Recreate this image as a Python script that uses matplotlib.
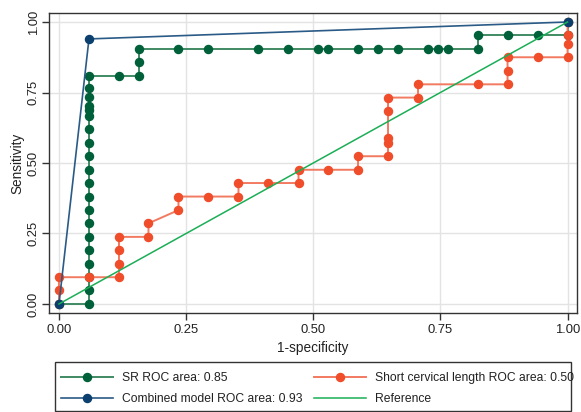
import matplotlib
matplotlib.use("Agg")
import matplotlib.pyplot as plt
from matplotlib.patches import Rectangle

plt.rcParams['font.family'] = ['Liberation Sans', 'DejaVu Sans']

# SR ROC curve
sr_x = [0.0, 0.059, 0.059, 0.059, 0.059, 0.059, 0.059, 0.059, 0.059, 0.059, 0.059,
        0.059, 0.059, 0.059, 0.059, 0.059, 0.059, 0.059, 0.059, 0.059, 0.059,
        0.118, 0.157, 0.157, 0.157, 0.235, 0.294, 0.392, 0.451, 0.510, 0.529,
        0.588, 0.627, 0.667, 0.725, 0.745, 0.765, 0.824, 0.824, 0.882, 0.941, 1.0, 1.0]
sr_y = [0.0, 0.0, 0.048, 0.095, 0.143, 0.190, 0.238, 0.286, 0.333, 0.381, 0.429,
        0.476, 0.524, 0.571, 0.619, 0.667, 0.687, 0.703, 0.733, 0.765, 0.810,
        0.810, 0.810, 0.857, 0.905, 0.905, 0.905, 0.905, 0.905, 0.905, 0.905,
        0.905, 0.905, 0.905, 0.905, 0.905, 0.905, 0.905, 0.954, 0.954, 0.954, 0.954, 1.0]

# Short cervical length ROC curve
scl_x = [0.0, 0.0, 0.0, 0.059, 0.118, 0.118, 0.118, 0.118, 0.176, 0.176, 0.235,
         0.235, 0.294, 0.353, 0.353, 0.412, 0.471, 0.471, 0.529, 0.588, 0.588,
         0.647, 0.647, 0.647, 0.647, 0.647, 0.706, 0.706, 0.824, 0.882, 0.882,
         0.882, 0.941, 1.0, 1.0, 1.0, 1.0]
scl_y = [0.0, 0.048, 0.095, 0.095, 0.095, 0.143, 0.190, 0.238, 0.238, 0.286, 0.333,
         0.381, 0.381, 0.381, 0.429, 0.429, 0.429, 0.476, 0.476, 0.476, 0.524,
         0.524, 0.571, 0.588, 0.684, 0.732, 0.732, 0.779, 0.779, 0.779, 0.827,
         0.875, 0.875, 0.875, 0.921, 0.954, 1.0]

# Combined model ROC curve
comb_x = [0.0, 0.059, 1.0]
comb_y = [0.0, 0.94, 1.0]

ref_x = [0.0, 1.0]
ref_y = [0.0, 1.0]

labels = ["SR ROC area: 0.85", "Combined model ROC area: 0.93",
          "Short cervical length ROC area: 0.50", "Reference"]
xticks = [0.0, 0.25, 0.5, 0.75, 1.0]
yticks = [0.0, 0.25, 0.5, 0.75, 1.0]

c_sr = '#00603a'
c_sr_line = '#3f8a62'
c_comb = '#0a3f6e'
c_comb_line = '#2a5a86'
c_scl = '#f04d2b'
c_scl_line = '#f27a60'
c_ref = '#1bae56'

W, H = 581, 412
fig = plt.figure(figsize=(W/100, H/100), dpi=100)
ax = fig.add_axes([49.3/W, 1-313.3/H, (576.7-49.3)/W, (313.3-12.7)/H])

ms = 5.8
h_sr, = ax.plot(sr_x, sr_y, color=c_sr_line, lw=1.4, marker='o', ms=ms,
                mfc=c_sr, mec=c_sr, zorder=3)
h_scl, = ax.plot(scl_x, scl_y, color=c_scl_line, lw=1.4, marker='o', ms=ms,
                 mfc=c_scl, mec=c_scl, zorder=3)
h_comb, = ax.plot(comb_x, comb_y, color=c_comb_line, lw=1.2, marker='o', ms=ms,
                  mfc=c_comb, mec=c_comb, zorder=4)
h_ref, = ax.plot(ref_x, ref_y, color=c_ref, lw=1.1, zorder=5)

ax.set_xlim(-0.019, 1.018)
ax.set_ylim(-0.033, 1.033)
ax.set_xticks(xticks)
ax.set_yticks(yticks)
ax.set_xticklabels([f"{t:.2f}" for t in xticks], fontsize=9.4)
ax.set_yticklabels([f"{t:.2f}" for t in yticks], fontsize=9.4, rotation=90, va='center')
ax.grid(True, color='#e3e3e3', lw=1.0, zorder=0)
ax.set_axisbelow(True)
for s in ax.spines.values():
    s.set_color('#333333')
    s.set_linewidth(1.0)
ax.tick_params(axis='both', length=5, width=1.0, color='#333333', pad=3, labelcolor='#222222')
ax.tick_params(axis='y', pad=2)
ax.set_xlabel("1-specificity", fontsize=9.8, color='#222222', labelpad=3)
ax.set_ylabel("Sensitivity", fontsize=9.8, color='#222222', labelpad=2)

# legend frame
fig.patches.append(Rectangle((55/W, 1-410.7/H), (570.7-55)/W, (410.7-362.3)/H,
                             transform=fig.transFigure, fill=False,
                             edgecolor='#333333', lw=1.0))

fs = 8.7
em = fs*100/72
common = dict(loc='center left', fontsize=fs, frameon=False, borderpad=0,
              borderaxespad=0, handlelength=52/em, handletextpad=9/em,
              labelspacing=0.75, labelcolor='#222222')
leg1 = fig.legend([h_sr, h_comb], labels[:2],
                  bbox_to_anchor=(61/W, 1-388.5/H), **common)
leg2 = fig.legend([h_scl, h_ref], labels[2:],
                  bbox_to_anchor=(314/W, 1-388.5/H), **common)

fig.savefig("out.png", dpi=100)
